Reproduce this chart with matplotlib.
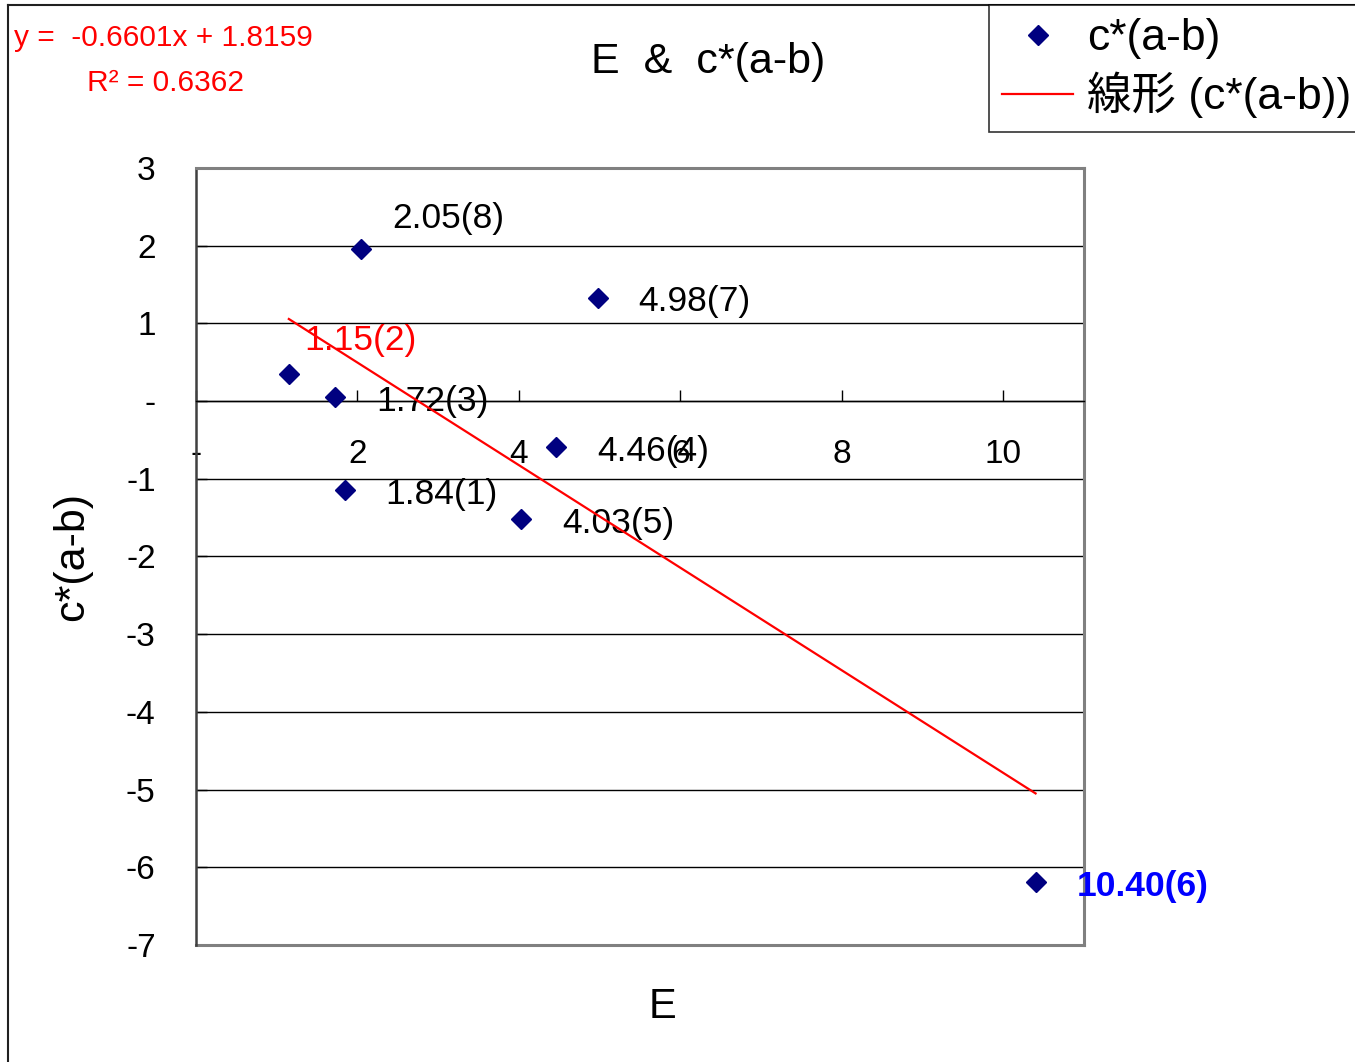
import matplotlib
matplotlib.use("Agg")
import matplotlib.pyplot as plt
from matplotlib.lines import Line2D

plt.rcParams['font.family'] = ['Liberation Sans', 'Noto Sans CJK JP', 'DejaVu Sans']

# ----------------------
# DATA
# ----------------------
E = [1.84, 1.15, 1.72, 4.46, 4.03, 10.40, 4.98, 2.05]
C = [-1.15, 0.35, 0.05, -0.59, -1.52, -6.19, 1.33, 1.96]
labels = ["1.84(1)", "1.15(2)", "1.72(3)", "4.46(4)", "4.03(5)", "10.40(6)", "4.98(7)", "2.05(8)"]
label_colors = ["black", "red", "black", "black", "black", "blue", "black", "black"]

slope = -0.6601
intercept = 1.8159
r2 = 0.6362

xticks = [0, 2, 4, 6, 8, 10]
xticklabels = ["-", "2", "4", "6", "8", "10"]
yticks = [-7, -6, -5, -4, -3, -2, -1, 0, 1, 2, 3]
yticklabels = ["-7", "-6", "-5", "-4", "-3", "-2", "-1", "-", "1", "2", "3"]

# label offsets in points (right of marker)
offsets = [(29.5, -3), (11, 24), (29.5, -3), (29.5, -3), (29.5, -3), (29.5, -3), (29, -3), (22, 22)]

W, H = 1355, 1062
fig = plt.figure(figsize=(W / 100, H / 100), dpi=100)
ax = fig.add_axes([196 / W, 1 - 945 / H, (1084 - 196) / W, (945 - 168) / H])

ax.set_xlim(0, 11)
ax.set_ylim(-7, 3)

# frame
grey = "#808080"
for s in ["top", "right"]:
    ax.spines[s].set_color(grey)
    ax.spines[s].set_linewidth(2.2)
ax.spines["left"].set_color("#404040")
ax.spines["left"].set_linewidth(1.8)
ax.spines["bottom"].set_position(("data", 0))
ax.spines["bottom"].set_color("black")
ax.spines["bottom"].set_linewidth(1.0)
ax.axhline(-7, color=grey, lw=2.2, clip_on=False, zorder=2.5)

ax.set_yticks(yticks)
ax.set_yticklabels(yticklabels)
ax.set_xticks(xticks)
ax.set_xticklabels(xticklabels)
ax.tick_params(axis="both", direction="in", length=8, width=1, labelsize=24, pad=27)
ax.tick_params(axis="y", pad=29)
ax.yaxis.grid(True, color="black", lw=1.0)
ax.set_axisbelow(True)

# data
ax.plot(E, C, "D", ls="none", color="#000080", ms=10, zorder=5, label="c*(a-b)")
x_fit = [min(E), max(E)]
y_fit = [slope * x + intercept for x in x_fit]
ax.plot(x_fit, y_fit, color="red", lw=1.6, zorder=4, label="線形 (c*(a-b))")

for x, y, lab, col, off in zip(E, C, labels, label_colors, offsets):
    ax.annotate(lab, (x, y), xytext=off, textcoords="offset points",
                ha="left", va="center", fontsize=25.5, color=col,
                fontweight="bold" if col == "blue" else "normal", zorder=3)

ax.set_xlabel("E", fontsize=30)
ax.set_ylabel("c*(a-b)", fontsize=31)
ax.xaxis.set_label_coords((663 - 196) / 888, (945 - 1007) / 777)
ax.xaxis.label.set_va("center")
ax.yaxis.set_label_coords((72 - 196) / 888, 0.5)
ax.yaxis.label.set_va("center")

fig.text(708 / W, 1 - 62 / H, "E  &  c*(a-b)", fontsize=31, ha="center", va="center")

fig.text(14 / W, 1 - 38 / H, "y =  -0.6601x + 1.8159", fontsize=21.5, color="red", va="center")
fig.text(87 / W, 1 - 83 / H, "R² = %.4f" % r2, fontsize=21.5, color="red", va="center")

# outer chart border (left and top)
fig.add_artist(Line2D([8 / W, 8 / W], [0, 1 - 5 / H], color="#202020", lw=1.5, transform=fig.transFigure))
fig.add_artist(Line2D([8 / W, 1], [1 - 5 / H, 1 - 5 / H], color="#202020", lw=1.5, transform=fig.transFigure))

leg = fig.legend(loc="upper left", bbox_to_anchor=(989 / W, 1 - 5 / H), fontsize=32,
                 frameon=True, fancybox=False, edgecolor="black", borderpad=0.3,
                 borderaxespad=0, handlelength=1.6, handletextpad=0.3, labelspacing=0.28)
leg.get_frame().set_linewidth(1.2)

plt.savefig("out.png", dpi=100)
